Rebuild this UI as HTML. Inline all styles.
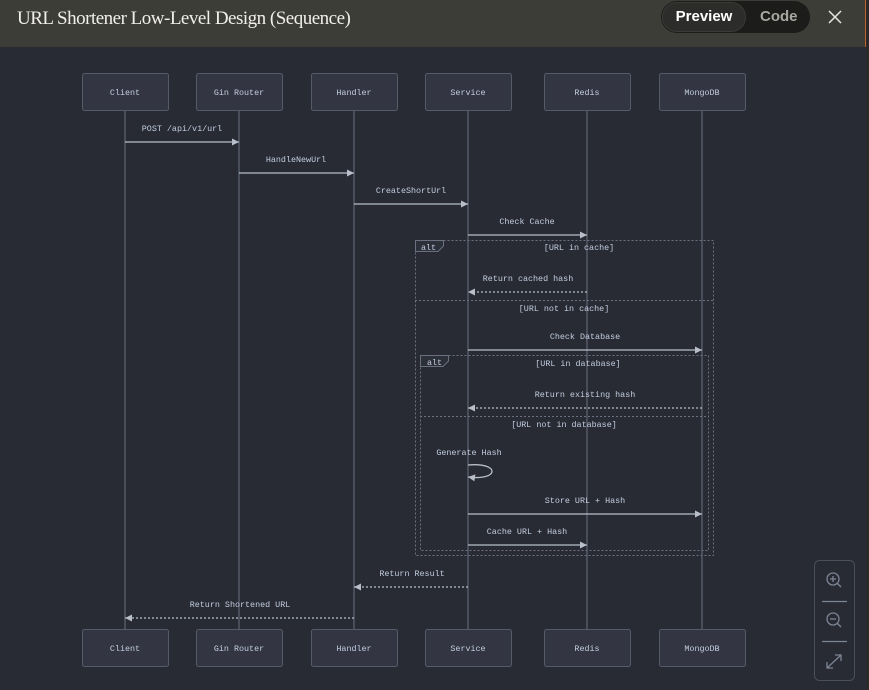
<!DOCTYPE html>
<html><head><meta charset="utf-8"><style>
html,body{margin:0;padding:0;width:869px;height:690px;overflow:hidden;background:#282b33;}
.hdr{position:absolute;left:0;top:0;width:866px;height:47px;background:#3d3d38;}
.edge{position:absolute;left:866px;top:0;width:3px;height:690px;background:#2a2a28;}
.edge2{position:absolute;left:865px;top:0;width:1px;height:47px;background:#c0602a;}
.title{position:absolute;left:17px;top:8px;font-family:"Liberation Serif",serif;font-size:19px;color:#f0efe8;letter-spacing:-0.5px;}
.tog{position:absolute;left:661px;top:1px;width:149px;height:32px;border-radius:16px;background:#1c1c1a;}
.pv{position:absolute;left:662px;top:2px;width:84px;height:30px;border-radius:15px;background:#2c2c2a;border:1px solid #3a3a37;box-sizing:border-box;color:#fff;font:bold 15px "Liberation Sans",sans-serif;text-align:center;line-height:28px;}
.cd{position:absolute;left:760px;top:8px;color:#a8a7a0;font:bold 15px "Liberation Sans",sans-serif;}
svg{position:absolute;left:0;top:0;}
text{font-family:"Liberation Mono","DejaVu Sans Mono",monospace;font-size:8.4px;fill:#c3cde0;}
</style></head><body>
<div class="hdr"></div><div class="edge"></div><div class="edge2"></div>
<div class="title">URL Shortener Low-Level Design (Sequence)</div>
<div class="tog"></div><div class="pv">Preview</div><div class="cd">Code</div>
<svg width="869" height="690">
<defs><marker id="a" markerWidth="8" markerHeight="8" refX="7" refY="3.5" orient="auto" markerUnits="userSpaceOnUse"><path d="M0,0 L7,3.5 L0,7z" fill="#b8bfca"/></marker></defs>
<path d="M829,11 L841,23 M841,11 L829,23" stroke="#e8e8e4" stroke-width="1.5"/>
<g stroke="#5b6070" stroke-width="1.3">
<line x1="125" y1="110" x2="125" y2="629"/><line x1="239" y1="110" x2="239" y2="629"/>
<line x1="354" y1="110" x2="354" y2="629"/><line x1="468" y1="110" x2="468" y2="629"/>
<line x1="587" y1="110" x2="587" y2="629"/><line x1="702" y1="110" x2="702" y2="629"/>
</g>
<g fill="#333642" stroke="#555a68" stroke-width="1">
<rect x="82.5" y="73.5" width="86" height="37" rx="2"/><rect x="196.5" y="73.5" width="86" height="37" rx="2"/>
<rect x="311.5" y="73.5" width="86" height="37" rx="2"/><rect x="425.5" y="73.5" width="86" height="37" rx="2"/>
<rect x="544.5" y="73.5" width="86" height="37" rx="2"/><rect x="659.5" y="73.5" width="86" height="37" rx="2"/>
<rect x="82.5" y="629.5" width="86" height="37" rx="2"/><rect x="196.5" y="629.5" width="86" height="37" rx="2"/>
<rect x="311.5" y="629.5" width="86" height="37" rx="2"/><rect x="425.5" y="629.5" width="86" height="37" rx="2"/>
<rect x="544.5" y="629.5" width="86" height="37" rx="2"/><rect x="659.5" y="629.5" width="86" height="37" rx="2"/>
</g>
<g text-anchor="middle">
<text x="125" y="95">Client</text><text x="239" y="95">Gin Router</text><text x="354" y="95">Handler</text>
<text x="468" y="95">Service</text><text x="587" y="95">Redis</text><text x="702" y="95">MongoDB</text>
<text x="125" y="651">Client</text><text x="239" y="651">Gin Router</text><text x="354" y="651">Handler</text>
<text x="468" y="651">Service</text><text x="587" y="651">Redis</text><text x="702" y="651">MongoDB</text>
</g>
<g fill="none" stroke="#6a7080" stroke-width="1" stroke-dasharray="2,2">
<rect x="415.5" y="240.5" width="298" height="315"/>
<line x1="415" y1="300.5" x2="713" y2="300.5"/>
<rect x="420.5" y="355.5" width="288" height="195"/>
<line x1="420" y1="416.5" x2="708" y2="416.5"/>
</g>
<path d="M415.5,240.5 H443.5 V246 L438,251.5 H415.5z" fill="#2c3039" stroke="#6a7080"/>
<path d="M420.5,355.5 H448.5 V361 L443,366.5 H420.5z" fill="#2c3039" stroke="#6a7080"/>
<text x="421" y="250">alt</text><text x="427" y="365">alt</text>
<g text-anchor="middle">
<text x="579" y="250">[URL in cache]</text>
<text x="564" y="311">[URL not in cache]</text>
<text x="578" y="366">[URL in database]</text>
<text x="564" y="427">[URL not in database]</text>
</g>
<g stroke="#b8bfca" stroke-width="1.3" fill="none">
<line x1="125" y1="142" x2="239" y2="142" marker-end="url(#a)"/>
<line x1="239" y1="173" x2="354" y2="173" marker-end="url(#a)"/>
<line x1="354" y1="204" x2="468" y2="204" marker-end="url(#a)"/>
<line x1="468" y1="235" x2="587" y2="235" marker-end="url(#a)"/>
<line x1="587" y1="292" x2="468" y2="292" stroke-dasharray="2,2" marker-end="url(#a)"/>
<line x1="468" y1="350" x2="702" y2="350" marker-end="url(#a)"/>
<line x1="702" y1="408" x2="468" y2="408" stroke-dasharray="2,2" marker-end="url(#a)"/>
<path d="M468,465 C500,462 500,481 468,477" marker-end="url(#a)"/>
<line x1="468" y1="514" x2="702" y2="514" marker-end="url(#a)"/>
<line x1="468" y1="545" x2="587" y2="545" marker-end="url(#a)"/>
<line x1="468" y1="587" x2="354" y2="587" stroke-dasharray="2,2" marker-end="url(#a)"/>
<line x1="354" y1="618" x2="125" y2="618" stroke-dasharray="2,2" marker-end="url(#a)"/>
</g>
<g text-anchor="middle">
<text x="182" y="131">POST /api/v1/url</text>
<text x="296" y="162">HandleNewUrl</text>
<text x="411" y="193">CreateShortUrl</text>
<text x="527" y="224">Check Cache</text>
<text x="528" y="281">Return cached hash</text>
<text x="585" y="339">Check Database</text>
<text x="585" y="397">Return existing hash</text>
<text x="469" y="455">Generate Hash</text>
<text x="585" y="503">Store URL + Hash</text>
<text x="527" y="534">Cache URL + Hash</text>
<text x="412" y="576">Return Result</text>
<text x="240" y="607">Return Shortened URL</text>
</g>
<rect x="814.5" y="560.5" width="40" height="120" rx="5" fill="none" stroke="#4a4f5c"/>
<g stroke="#7d8494" stroke-width="1.3" fill="none">
<line x1="822" y1="601.5" x2="847" y2="601.5"/><line x1="822" y1="641.5" x2="847" y2="641.5"/>
<circle cx="833" cy="579" r="6"/><line x1="837" y1="583" x2="841" y2="587"/><line x1="830" y1="579" x2="836" y2="579"/><line x1="833" y1="576" x2="833" y2="582"/>
<circle cx="833" cy="619" r="6"/><line x1="837" y1="623" x2="841" y2="627"/><line x1="830" y1="619" x2="836" y2="619"/>
<path d="M827,668 L841,655 M835,655 H841 V661 M827,662 V668 H833"/>
</g>
</svg>
</body></html>
